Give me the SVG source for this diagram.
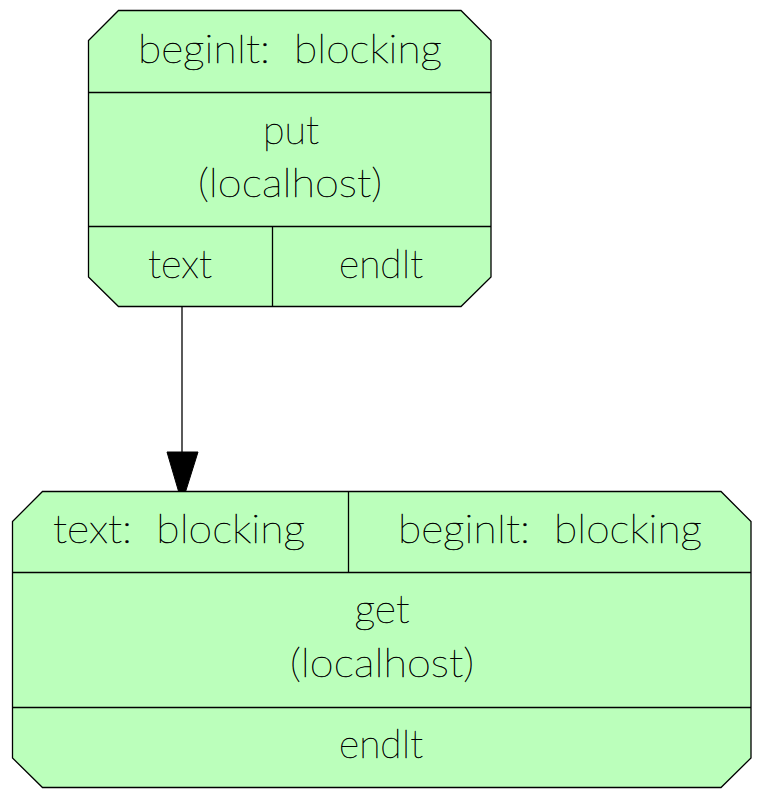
<svg xmlns="http://www.w3.org/2000/svg" width="759" height="796" viewBox="0 0 759 796">
<style>
.shape{fill:#bbffbb;stroke:#000;stroke-width:1.3}
.div{stroke:#000;stroke-width:1.3;fill:none}
.t{font-family:"Lato","Inter","DejaVu Sans",sans-serif;font-weight:100;font-size:40px;fill:#000;stroke:#000;stroke-width:0.5;text-anchor:middle;white-space:pre}
</style>
<rect width="759" height="796" fill="#fff"/>
<g id="connectors">
<line x1="182" y1="307" x2="182" y2="452" stroke="#000" stroke-width="1.3"/>
<polygon points="167,452 198,452 182,503" fill="#000" stroke="#000"/>
</g>
<g id="put">
<polygon class="shape" points="118.5,10.5 461,10.5 491,40.5 491,277 461,306.5 118.5,306.5 88.5,277 88.5,40.5"/>
<line class="div" x1="88.5" y1="92.5" x2="491" y2="92.5"/>
<line class="div" x1="88.5" y1="226.5" x2="491" y2="226.5"/>
<line class="div" x1="272.5" y1="226.5" x2="272.5" y2="306.5"/>
<text class="t" x="290" y="63" xml:space="preserve" textLength="304" lengthAdjust="spacingAndGlyphs">beginIt:  blocking</text>
<text class="t" x="291" y="144" textLength="56" lengthAdjust="spacingAndGlyphs">put</text>
<text class="t" x="290" y="197" textLength="184" lengthAdjust="spacingAndGlyphs">(localhost)</text>
<text class="t" x="180" y="278" textLength="64" lengthAdjust="spacingAndGlyphs">text</text>
<text class="t" x="381" y="278" textLength="84" lengthAdjust="spacingAndGlyphs">endIt</text>
</g>
<g id="get">
<polygon class="shape" points="42.5,491.5 721,491.5 751,521.5 751,758 721,787.5 42.5,787.5 12.5,758 12.5,521.5"/>
<line class="div" x1="12.5" y1="572.5" x2="751" y2="572.5"/>
<line class="div" x1="12.5" y1="707.5" x2="751" y2="707.5"/>
<line class="div" x1="348.5" y1="491.5" x2="348.5" y2="572.5"/>
<text class="t" x="179" y="543" xml:space="preserve" textLength="252" lengthAdjust="spacingAndGlyphs">text:  blocking</text>
<text class="t" x="550" y="543" xml:space="preserve" textLength="304" lengthAdjust="spacingAndGlyphs">beginIt:  blocking</text>
<text class="t" x="382" y="623" textLength="55" lengthAdjust="spacingAndGlyphs">get</text>
<text class="t" x="382" y="677" textLength="184" lengthAdjust="spacingAndGlyphs">(localhost)</text>
<text class="t" x="381" y="758" textLength="84" lengthAdjust="spacingAndGlyphs">endIt</text>
</g>
</svg>
